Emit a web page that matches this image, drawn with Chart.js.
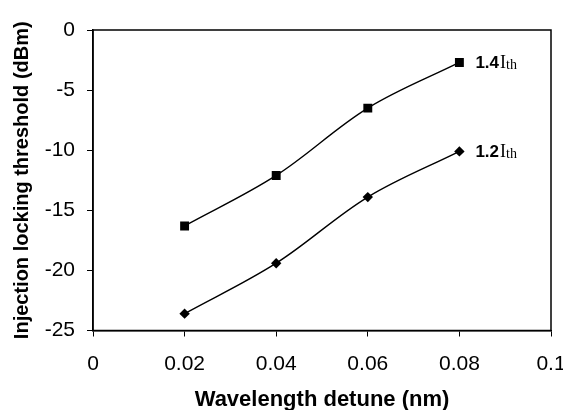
<!DOCTYPE html>
<html>
<head>
<meta charset="utf-8">
<script src="https://cdn.jsdelivr.net/npm/chart.js@4.4.0/dist/chart.umd.min.js"></script>
<style>
html,body{margin:0;padding:0;background:#fff;}
#wrap{width:563px;height:410px;}
</style>
</head>
<body>
<div id="wrap"><canvas id="c" width="563" height="410"></canvas></div>
<script>
const detune = [0.02, 0.04, 0.06, 0.08];
const series14 = [-16.3, -12.1, -6.5, -2.7];
const series12 = [-23.6, -19.4, -13.9, -10.1];
const seriesLabels = ["1.4", "1.2"];
const xTicks = [0, 0.02, 0.04, 0.06, 0.08, 0.1];
const yTicks = [0, -5, -10, -15, -20, -25];

const endLabels = {
  id: 'endLabels',
  afterDatasetsDraw(chart) {
    const ctx = chart.ctx;
    const xs = chart.scales.x, ys = chart.scales.y;
    ctx.save();
    chart.data.datasets.forEach((ds, i) => {
      const last = ds.data[ds.data.length - 1];
      const px = xs.getPixelForValue(last.x) + 16;
      const py = ys.getPixelForValue(last.y) + 1;
      ctx.fillStyle = '#000';
      ctx.textBaseline = 'middle';
      ctx.textAlign = 'left';
      ctx.font = 'bold 17px "Liberation Sans", Arial, sans-serif';
      const t = seriesLabels[i];
      ctx.fillText(t, px, py);
      let w = ctx.measureText(t).width + 1;
      ctx.font = '18px "Liberation Serif", "Times New Roman", serif';
      ctx.fillText('I', px + w, py);
      w += ctx.measureText('I').width;
      ctx.font = '14px "Liberation Serif", "Times New Roman", serif';
      ctx.fillText('th', px + w, py + 2);
    });
    ctx.restore();
  }
};

const frame = {
  id: 'frame',
  afterDraw(chart) {
    const a = chart.chartArea;
    const ctx = chart.ctx;
    ctx.save();
    ctx.strokeStyle = '#000';
    ctx.lineWidth = 1.5;
    ctx.strokeRect(a.left, a.top, a.right - a.left, a.bottom - a.top);
    ctx.restore();
  }
};

new Chart(document.getElementById('c'), {
  type: 'line',
  data: {
    datasets: [
      {
        data: detune.map((x, i) => ({x, y: series14[i]})),
        borderColor: '#000', backgroundColor: '#000', borderWidth: 1.4,
        pointStyle: 'rect', pointRadius: 6.3, pointBorderWidth: 0,
        tension: 0.35, fill: false
      },
      {
        data: detune.map((x, i) => ({x, y: series12[i]})),
        borderColor: '#000', backgroundColor: '#000', borderWidth: 1.4,
        pointStyle: 'rectRot', pointRadius: 5.2, pointBorderWidth: 0,
        tension: 0.35, fill: false
      }
    ]
  },
  options: {
    responsive: false,
    animation: false,
    devicePixelRatio: 1,
    layout: { padding: { top: 30, right: 12, left: 0, bottom: 0 } },
    plugins: { legend: { display: false }, tooltip: { enabled: false } },
    scales: {
      x: {
        type: 'linear', min: 0, max: 0.1,
        afterBuildTicks(s) { s.ticks = xTicks.map(v => ({value: v})); },
        afterFit(s) { s.height = 79.5; s.paddingLeft = 0; s.paddingRight = 0; },
        border: { display: true, color: '#000', width: 1.5 },
        grid: { drawOnChartArea: false, drawTicks: true, tickLength: 6, color: '#000' },
        ticks: { color: '#000', padding: 15, maxRotation: 0,
          font: { family: '"Liberation Sans", Arial, sans-serif', size: 21 },
          callback: v => String(v) },
        title: { display: true, text: 'Wavelength detune (nm)', color: '#000',
          font: { family: '"Liberation Sans", Arial, sans-serif', size: 22, weight: 'bold' },
          padding: { top: 0, bottom: -3 } }
      },
      y: {
        type: 'linear', min: -25, max: 0,
        afterBuildTicks(s) { s.ticks = yTicks.map(v => ({value: v})); },
        afterFit(s) { s.width = 93; s.paddingTop = 0; s.paddingBottom = 0; },
        border: { display: true, color: '#000', width: 1.5 },
        grid: { drawOnChartArea: false, drawTicks: true, tickLength: 6, color: '#000' },
        ticks: { color: '#000', padding: 12,
          font: { family: '"Liberation Sans", Arial, sans-serif', size: 21 },
          callback: v => String(v) },
        title: { display: true, text: 'Injection locking threshold (dBm)', color: '#000',
          font: { family: '"Liberation Sans", Arial, sans-serif', size: 20, weight: 'bold' },
          padding: { top: 10, bottom: 0 } }
      }
    }
  },
  plugins: [endLabels, frame]
});
</script>
</body>
</html>
